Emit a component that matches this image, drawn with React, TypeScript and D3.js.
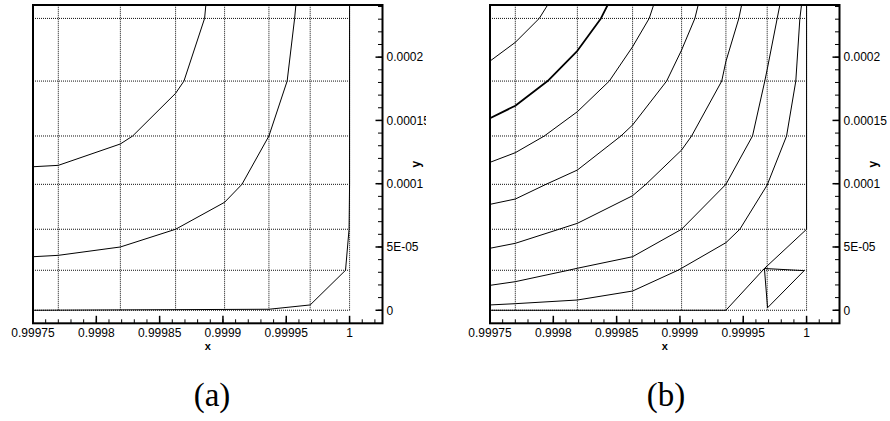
import React from 'react';
import * as d3 from 'd3';

const W = 890;
const H = 421;

// Axis ticks
const xMajorTicks = [0.99975, 0.9998, 0.99985, 0.9999, 0.99995, 1.0];
const xTickLabels = ['0.99975', '0.9998', '0.99985', '0.9999', '0.99995', '1'];
const yMajorTicks = [0, 5e-5, 1e-4, 1.5e-4, 2e-4];
const yTickLabels = ['0', '5E-05', '0.0001', '0.00015', '0.0002'];
const xDomain = [0.99975, 1.000026];
const yDomain = [-1.03e-5, 2.412e-4];

// Mesh lines
const meshX = [0.99977, 0.999819, 0.9998626, 0.9999013, 0.9999363, 0.9999689, 1.0];
const meshY = [0, 3.16e-5, 6.4e-5, 9.95e-5, 1.377e-4, 1.811e-4, 2.306e-4];

// Panel (a) contour lines
const contourA1 = [[0.99975, 1.134e-4], [0.99977, 1.145e-4], [0.999819, 1.314e-4], [0.9998287, 1.377e-4], [0.9998626, 1.714e-4], [0.9998692, 1.811e-4], [0.9998855, 2.306e-4], [0.9998865, 2.412e-4]];
const contourA2 = [[0.99975, 4.23e-5], [0.99977, 4.34e-5], [0.999819, 5.0e-5], [0.9998626, 6.4e-5], [0.9999013, 8.53e-5], [0.999915, 9.95e-5], [0.9999363, 1.377e-4], [0.9999507, 1.811e-4], [0.9999566, 2.306e-4], [0.9999576, 2.412e-4]];
const contourA3 = [[0.99975, 0], [0.9999363, 8e-7], [0.9999689, 4.2e-6], [0.9999968, 3.16e-5], [0.9999996, 6.4e-5], [1.0, 9.95e-5], [1.0, 2.412e-4]];

// Panel (b) contour lines
const contourB1 = [[0.99975, 1.969e-4], [0.99977, 2.117e-4], [0.9997889, 2.306e-4], [0.9997955, 2.412e-4]];
const contourB2 = [[0.99975, 1.517e-4], [0.99977, 1.616e-4], [0.9997955, 1.811e-4], [0.999819, 2.05e-4], [0.9998376, 2.306e-4], [0.9998429, 2.412e-4]];
const contourB3 = [[0.99975, 1.169e-4], [0.99977, 1.245e-4], [0.9997929, 1.377e-4], [0.999819, 1.569e-4], [0.9998442, 1.811e-4], [0.9998626, 2.082e-4], [0.9998757, 2.306e-4], [0.9998792, 2.412e-4]];
const contourB4 = [[0.99975, 8.37e-5], [0.99977, 8.79e-5], [0.9997942, 9.95e-5], [0.999819, 1.108e-4], [0.9998534, 1.377e-4], [0.9998626, 1.464e-4], [0.9998895, 1.811e-4], [0.9999013, 2.056e-4], [0.9999118, 2.306e-4], [0.9999144, 2.412e-4]];
const contourB5 = [[0.99975, 4.9e-5], [0.99977, 5.29e-5], [0.9998045, 6.4e-5], [0.999819, 6.87e-5], [0.9998626, 9.05e-5], [0.9998731, 9.95e-5], [0.9999013, 1.266e-4], [0.9999092, 1.377e-4], [0.999933, 1.811e-4], [0.9999363, 1.966e-4], [0.9999465, 2.306e-4], [0.9999487, 2.412e-4]];
const contourB6 = [[0.99975, 1.97e-5], [0.99977, 2.26e-5], [0.9998119, 3.16e-5], [0.999819, 3.32e-5], [0.9998626, 4.23e-5], [0.9999013, 6.4e-5], [0.9999363, 9.95e-5], [0.9999573, 1.377e-4], [0.999967, 1.811e-4], [0.9999689, 1.903e-4], [0.9999768, 2.306e-4], [0.9999789, 2.412e-4]];
const contourB7 = [[0.99975, 4.2e-6], [0.99977, 5.2e-6], [0.999819, 8.1e-6], [0.9998626, 1.52e-5], [0.9998984, 3.16e-5], [0.9999013, 3.32e-5], [0.9999363, 5.34e-5], [0.9999473, 6.4e-5], [0.9999689, 9.9e-5], [0.9999842, 1.377e-4], [0.9999915, 1.811e-4], [0.9999947, 2.306e-4], [0.999996, 2.412e-4]];
const contourB8 = [[0.99975, 0], [0.9999363, 0], [0.9999667, 3.3e-5], [1.0, 6.4e-5], [1.0, 2.412e-4]];
const triangleB = [[0.9999667, 3.3e-5], [0.9999981, 3.13e-5], [0.9999692, 2e-6], [0.9999667, 3.3e-5]];

const contoursA = [contourA1, contourA2, contourA3];
const contoursB = [contourB1, contourB2, contourB3, contourB4, contourB5, contourB6, contourB7, contourB8, triangleB];
const thickB = [false, true, false, false, false, false, false, false, false];

const captions = ['(a)', '(b)'];

const FONT = '"Liberation Sans", Arial, Helvetica, sans-serif';

function Panel({ ox, contours, thick, caption, clipW, captionX }) {
  const left = 33 + ox;
  const right = 382.5 + ox;
  const top = 5;
  const bottom = 323.3;
  const x = d3.scaleLinear().domain(xDomain).range([left, right]);
  const y = d3.scaleLinear().domain(yDomain).range([bottom, top]);
  const line = d3.line().x((d) => x(d[0])).y((d) => y(d[1]));
  const xMinor = d3.ticks(xDomain[0], xDomain[1], 28);
  const yMinor = d3.ticks(0, yDomain[1], 25);
  const clipId = 'clip' + ox;
  const plotClip = 'plot' + ox;
  return (
    <g clipPath={clipW ? `url(#${clipId})` : undefined}>
      <defs>
        {clipW ? (
          <clipPath id={clipId}>
            <rect x={ox} y={0} width={clipW} height={H} />
          </clipPath>
        ) : null}
        <clipPath id={plotClip}>
          <rect x={left} y={top} width={right - left} height={bottom - top} />
        </clipPath>
      </defs>
      <g clipPath={`url(#${plotClip})`}>
        {meshX.map((v, i) => (
          <line key={'mx' + i} x1={x(v)} x2={x(v)} y1={y(0)} y2={top} stroke="#111" strokeWidth={1} strokeDasharray="1 1" />
        ))}
        {meshY.map((v, i) => (
          <line key={'my' + i} x1={left} x2={x(1)} y1={y(v)} y2={y(v)} stroke="#111" strokeWidth={1} strokeDasharray="1 1" />
        ))}
        {contours.map((c, i) => (
          <path key={'c' + i} d={line(c)} fill="none" stroke="#000" strokeWidth={thick && thick[i] ? 1.8 : 1} strokeLinejoin="round" />
        ))}
      </g>
      {/* frame */}
      <rect x={left} y={top} width={right - left} height={bottom - top} fill="none" stroke="#000" strokeWidth={2} />
      {/* x ticks */}
      {xMinor.map((v, i) => (
        <line key={'xm' + i} x1={x(v)} x2={x(v)} y1={bottom} y2={bottom - 4} stroke="#000" strokeWidth={1} />
      ))}
      {xMajorTicks.map((v, i) => (
        <line key={'xM' + i} x1={x(v)} x2={x(v)} y1={bottom} y2={bottom - 7.5} stroke="#000" strokeWidth={1.5} />
      ))}
      {xMajorTicks.map((v, i) => (
        <text key={'xl' + i} x={x(v)} y={336.8} textAnchor="middle" fontFamily={FONT} fontSize={12} fill="#000">
          {xTickLabels[i]}
        </text>
      ))}
      <text x={(left + right) / 2} y={349.6} textAnchor="middle" fontFamily={FONT} fontSize={11} fontWeight="bold" fill="#000">x</text>
      {/* y ticks on right */}
      {yMinor.map((v, i) => (
        <line key={'ym' + i} x1={right} x2={right - 4.5} y1={y(v)} y2={y(v)} stroke="#000" strokeWidth={1} />
      ))}
      {yMajorTicks.map((v, i) => (
        <line key={'yM' + i} x1={right} x2={right - 7} y1={y(v)} y2={y(v)} stroke="#000" strokeWidth={1.5} />
      ))}
      {yMajorTicks.map((v, i) => (
        <text key={'yl' + i} x={right + 4} y={y(v) + 4.3} textAnchor="start" fontFamily={FONT} fontSize={12} fill="#000">
          {yTickLabels[i]}
        </text>
      ))}
      <text transform={`translate(${right + 37.5},${(top + bottom) / 2}) rotate(-90)`} textAnchor="middle" fontFamily={FONT} fontSize={12} fontWeight="bold" fill="#000">y</text>
      <text x={captionX} y={406} textAnchor="middle" fontFamily='"Liberation Serif", "Times New Roman", serif' fontSize={33} fill="#000">
        {caption}
      </text>
    </g>
  );
}

export default function App() {
  return (
    <svg width={W} height={H} viewBox={`0 0 ${W} ${H}`} style={{ position: 'absolute', left: 0, top: 0, background: '#fff' }}>
      <rect x={0} y={0} width={W} height={H} fill="#fff" />
      <Panel ox={0} contours={contoursA} thick={null} caption={captions[0]} clipW={426} captionX={212} />
      <Panel ox={457} contours={contoursB} thick={thickB} caption={captions[1]} clipW={0} captionX={666} />
    </svg>
  );
}
